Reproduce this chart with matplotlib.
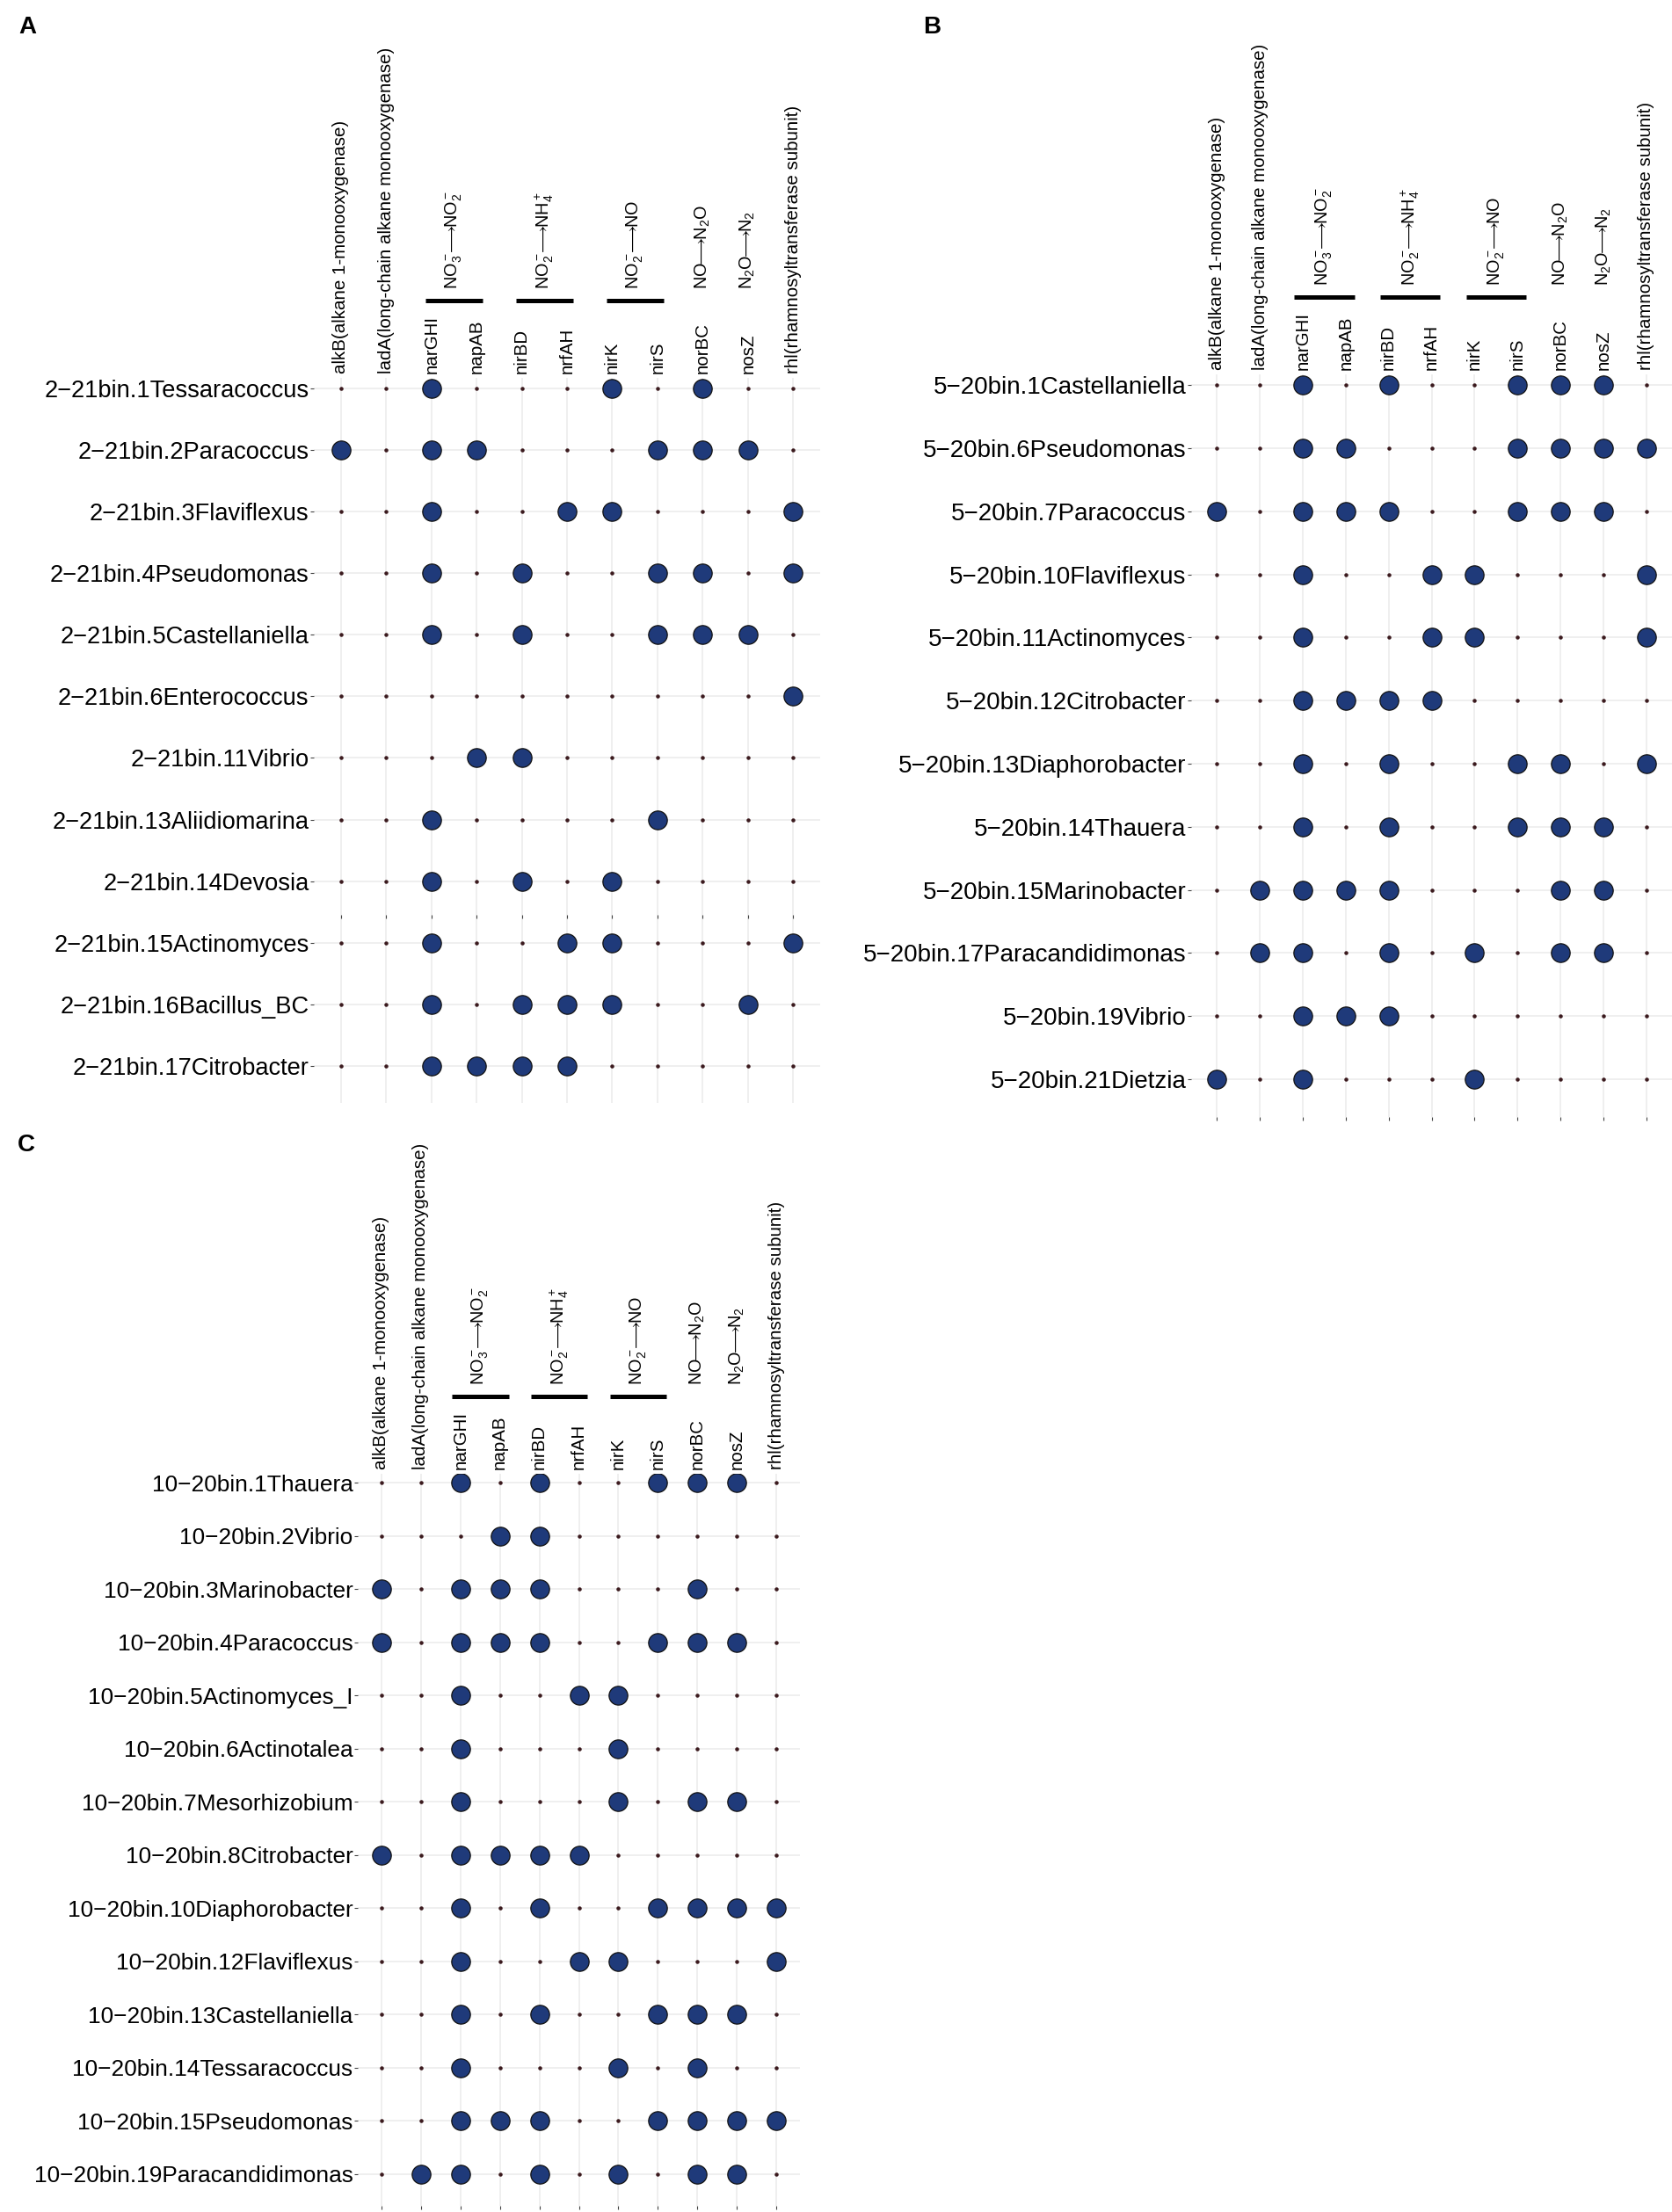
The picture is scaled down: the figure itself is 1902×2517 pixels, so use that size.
import matplotlib.pyplot as plt
import matplotlib.transforms as mtransforms
import numpy as np

plt.rcParams['font.family'] = ['Liberation Sans', 'DejaVu Sans']
plt.rcParams['mathtext.fontset'] = 'custom'
plt.rcParams['mathtext.rm'] = 'Liberation Sans'
plt.rcParams['mathtext.it'] = 'Liberation Sans:italic'
plt.rcParams['mathtext.bf'] = 'Liberation Sans:bold'

# gene columns
genes = ['alkB(alkane 1-monooxygenase)', 'ladA(long-chain alkane monooxygenase)',
         'narGHI', 'napAB', 'nirBD', 'nrfAH', 'nirK', 'nirS', 'norBC', 'nosZ',
         'rhl(rhamnosyltransferase subunit)']

# reaction groups: label, first gene, last gene, draw bar
group_labels = [r'NO$_3^-\!\!\longrightarrow\!\!$NO$_2^-$',
                r'NO$_2^-\!\!\longrightarrow\!\!$NH$_4^+$',
                r'NO$_2^-\!\!\longrightarrow\!\!$NO',
                r'NO$\!\!\longrightarrow\!\!$N$_2$O',
                r'N$_2$O$\!\!\longrightarrow\!\!$N$_2$']
group_start = ['narGHI', 'nirBD', 'nirK', 'norBC', 'nosZ']
group_end = ['napAB', 'nrfAH', 'nirS', 'norBC', 'nosZ']
group_bar = [True, True, True, False, False]

# panel A
bins_a = ['2\u221221bin.1Tessaracoccus', '2\u221221bin.2Paracoccus', '2\u221221bin.3Flaviflexus',
          '2\u221221bin.4Pseudomonas', '2\u221221bin.5Castellaniella', '2\u221221bin.6Enterococcus',
          '2\u221221bin.11Vibrio', '2\u221221bin.13Aliidiomarina', '2\u221221bin.14Devosia',
          '2\u221221bin.15Actinomyces', '2\u221221bin.16Bacillus_BC', '2\u221221bin.17Citrobacter']
presence_a = [
    [0, 0, 1, 0, 0, 0, 1, 0, 1, 0, 0],
    [1, 0, 1, 1, 0, 0, 0, 1, 1, 1, 0],
    [0, 0, 1, 0, 0, 1, 1, 0, 0, 0, 1],
    [0, 0, 1, 0, 1, 0, 0, 1, 1, 0, 1],
    [0, 0, 1, 0, 1, 0, 0, 1, 1, 1, 0],
    [0, 0, 0, 0, 0, 0, 0, 0, 0, 0, 1],
    [0, 0, 0, 1, 1, 0, 0, 0, 0, 0, 0],
    [0, 0, 1, 0, 0, 0, 0, 1, 0, 0, 0],
    [0, 0, 1, 0, 1, 0, 1, 0, 0, 0, 0],
    [0, 0, 1, 0, 0, 1, 1, 0, 0, 0, 1],
    [0, 0, 1, 0, 1, 1, 1, 0, 0, 1, 0],
    [0, 0, 1, 1, 1, 1, 0, 0, 0, 0, 0],
]

# panel B
bins_b = ['5\u221220bin.1Castellaniella', '5\u221220bin.6Pseudomonas', '5\u221220bin.7Paracoccus',
          '5\u221220bin.10Flaviflexus', '5\u221220bin.11Actinomyces', '5\u221220bin.12Citrobacter',
          '5\u221220bin.13Diaphorobacter', '5\u221220bin.14Thauera', '5\u221220bin.15Marinobacter',
          '5\u221220bin.17Paracandidimonas', '5\u221220bin.19Vibrio', '5\u221220bin.21Dietzia']
presence_b = [
    [0, 0, 1, 0, 1, 0, 0, 1, 1, 1, 0],
    [0, 0, 1, 1, 0, 0, 0, 1, 1, 1, 1],
    [1, 0, 1, 1, 1, 0, 0, 1, 1, 1, 0],
    [0, 0, 1, 0, 0, 1, 1, 0, 0, 0, 1],
    [0, 0, 1, 0, 0, 1, 1, 0, 0, 0, 1],
    [0, 0, 1, 1, 1, 1, 0, 0, 0, 0, 0],
    [0, 0, 1, 0, 1, 0, 0, 1, 1, 0, 1],
    [0, 0, 1, 0, 1, 0, 0, 1, 1, 1, 0],
    [0, 1, 1, 1, 1, 0, 0, 0, 1, 1, 0],
    [0, 1, 1, 0, 1, 0, 1, 0, 1, 1, 0],
    [0, 0, 1, 1, 1, 0, 0, 0, 0, 0, 0],
    [1, 0, 1, 0, 0, 0, 1, 0, 0, 0, 0],
]

# panel C
bins_c = ['10\u221220bin.1Thauera', '10\u221220bin.2Vibrio', '10\u221220bin.3Marinobacter',
          '10\u221220bin.4Paracoccus', '10\u221220bin.5Actinomyces_I', '10\u221220bin.6Actinotalea',
          '10\u221220bin.7Mesorhizobium', '10\u221220bin.8Citrobacter', '10\u221220bin.10Diaphorobacter',
          '10\u221220bin.12Flaviflexus', '10\u221220bin.13Castellaniella', '10\u221220bin.14Tessaracoccus',
          '10\u221220bin.15Pseudomonas', '10\u221220bin.19Paracandidimonas']
presence_c = [
    [0, 0, 1, 0, 1, 0, 0, 1, 1, 1, 0],
    [0, 0, 0, 1, 1, 0, 0, 0, 0, 0, 0],
    [1, 0, 1, 1, 1, 0, 0, 0, 1, 0, 0],
    [1, 0, 1, 1, 1, 0, 0, 1, 1, 1, 0],
    [0, 0, 1, 0, 0, 1, 1, 0, 0, 0, 0],
    [0, 0, 1, 0, 0, 0, 1, 0, 0, 0, 0],
    [0, 0, 1, 0, 0, 0, 1, 0, 1, 1, 0],
    [1, 0, 1, 1, 1, 1, 0, 0, 0, 0, 0],
    [0, 0, 1, 0, 1, 0, 0, 1, 1, 1, 1],
    [0, 0, 1, 0, 0, 1, 1, 0, 0, 0, 1],
    [0, 0, 1, 0, 1, 0, 0, 1, 1, 1, 0],
    [0, 0, 1, 0, 0, 0, 1, 0, 1, 0, 0],
    [0, 0, 1, 1, 1, 0, 0, 1, 1, 1, 1],
    [0, 1, 1, 0, 1, 0, 1, 0, 1, 1, 0],
]

W, H = 1902, 2517
fig = plt.figure(figsize=(W / 100, H / 100), dpi=100)


def panel(rect_px, rows, pres, row_fs, bar_half, bottom_ticks=True):
    left, right, top, bottom = rect_px
    ax = fig.add_axes([left / W, 1 - bottom / H, (right - left) / W, (bottom - top) / H])
    n = len(rows)
    pres = np.array(pres)
    xx, yy = np.meshgrid(np.arange(1, len(genes) + 1), np.arange(1, n + 1))
    on = pres == 1
    ax.scatter(xx[~on], yy[~on], s=5, c='#3b1a1e', zorder=2)
    ax.scatter(xx[on], yy[on], s=235, c='#1f3a7a', edgecolors='#111111', linewidths=0.9, zorder=3)

    ax.set_xlim(0.4, len(genes) + 0.6)
    ax.set_ylim(n + 0.6, 0.83)
    ax.set_yticks(np.arange(1, n + 1))
    ax.set_yticklabels(rows, fontsize=row_fs)
    ax.set_xticks(np.arange(1, len(genes) + 1))
    ax.set_xticklabels([])
    ax.tick_params(axis='y', length=3, width=0.8, color='#444444', pad=1)
    ax.tick_params(axis='x', length=3 if bottom_ticks else 0, width=0.8, color='#444444')
    ax.grid(True, color='#ebebeb', lw=1.1)
    ax.set_axisbelow(True)
    for s in ax.spines.values():
        s.set_visible(False)

    xt = ax.get_xaxis_transform()
    for i, g in enumerate(genes):
        ax.annotate(g, xy=(i + 1, 1), xycoords=xt, xytext=(0, 5), textcoords='offset pixels',
                    rotation=90, ha='center', va='bottom', fontsize=14.8)

    bar_tr = xt + mtransforms.ScaledTranslation(0, 0.88, fig.dpi_scale_trans)
    for lab, g0, g1, has_bar in zip(group_labels, group_start, group_end, group_bar):
        c = (genes.index(g0) + genes.index(g1)) / 2 + 1
        if has_bar:
            ax.plot([c - bar_half, c + bar_half], [1, 1], transform=bar_tr, color='black',
                    lw=3.6, solid_capstyle='butt', clip_on=False)
        ax.annotate(lab, xy=(c, 1), xycoords=xt, xytext=(0, 101), textcoords='offset pixels',
                    rotation=90, ha='center', va='bottom', fontsize=14.3)
    return ax


ax_a = panel((357, 933, 430, 1255), bins_a, presence_a, 19.6, 0.63, bottom_ticks=False)
# stray tick row left between Devosia and Actinomyces in panel A
ax_a.plot(np.arange(1, len(genes) + 1), np.full(len(genes), bins_a.index('2\u221221bin.14Devosia') + 1.57),
          ls='none', marker='|', ms=3, mew=0.8, color='#444444', zorder=2)
panel((1355, 1902, 426, 1271), bins_b, presence_b, 20, 0.7)
panel((407, 910, 1677, 2510), bins_c, presence_c, 18.9, 0.72)

fig.text(21 / W, 1 - 18 / H, 'A', ha='left', va='top', fontsize=20, fontweight='bold')
fig.text(1050 / W, 1 - 18 / H, 'B', ha='left', va='top', fontsize=20, fontweight='bold')
fig.text(20 / W, 1 - 1290 / H, 'C', ha='left', va='top', fontsize=20, fontweight='bold')

fig.savefig('out.png', dpi=100)
